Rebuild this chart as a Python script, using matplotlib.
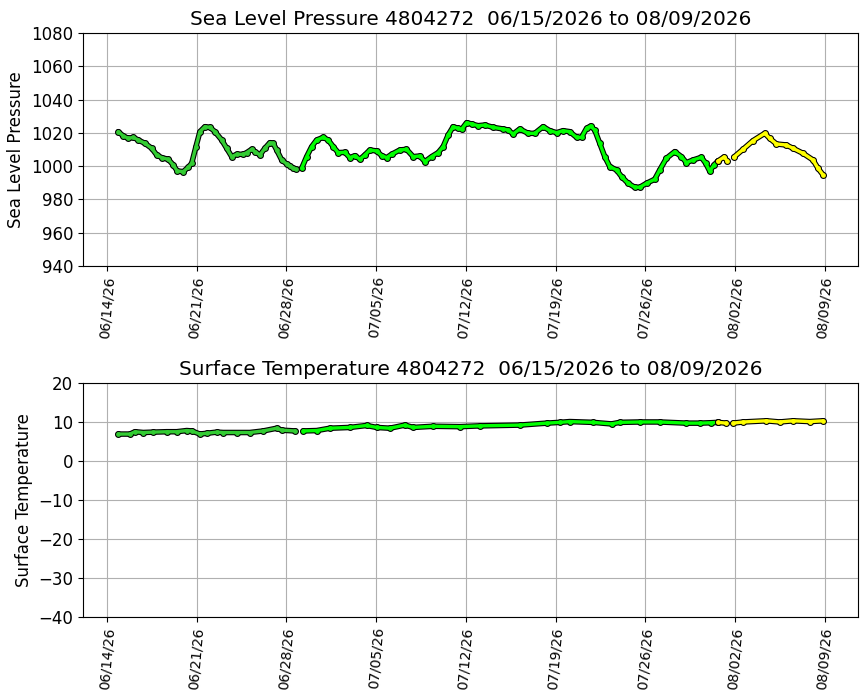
import numpy as np
import pandas as pd
import matplotlib
matplotlib.use("Agg")
import matplotlib.pyplot as plt
import matplotlib.dates as mdates

station = "4804272"
start_label = "06/15/2026"
end_label = "08/09/2026"
day0 = pd.Timestamp("2026-06-14")

# sea level pressure, days since 06/14/26
slp_days_a = [0.88, 1.27, 1.66, 2.05, 2.44, 2.96, 3.49, 3.88, 4.27, 4.78, 5.17, 5.48,
              5.95, 6.34, 6.61, 6.94, 7.25, 7.64, 8.03, 8.42, 8.95, 9.34, 9.73, 10.12,
              10.63, 10.90, 11.29, 11.54, 11.93, 12.32, 12.71, 12.97, 13.24, 13.63,
              14.02, 14.27, 14.53, 14.74]
slp_vals_a = [1020.7, 1018.1, 1016.7, 1017.3, 1015.7, 1013.7, 1010.7, 1006.7, 1005.1,
              1004.1, 1000.7, 997.1, 996.7, 999.3, 1001.7, 1011.7, 1020.7, 1023.7, 1023.3,
              1020.7, 1015.7, 1010.7, 1005.7, 1007.1, 1007.1, 1008.1, 1010.1, 1008.7,
              1006.7, 1010.7, 1014.1, 1013.7, 1009.7, 1003.7, 1001.3, 1000.1, 998.7, 998.1]

slp_days_b = [15.19, 15.58, 15.97, 16.36, 16.87, 17.26, 17.65, 18.04, 18.56, 18.95,
              19.34, 19.73, 20.12, 20.51, 21.04, 21.43, 21.82, 22.21, 22.85, 23.37,
              23.89, 24.41, 24.80, 25.33, 25.84, 26.23, 26.62, 27.01, 27.40, 27.67,
              28.06, 28.45, 28.96, 29.48, 30.13, 30.91, 31.30, 31.69, 32.21, 32.86,
              33.38, 34.03, 34.55, 35.08, 35.59, 36.11, 36.64, 37.03, 37.42, 37.73,
              38.06, 38.45, 38.84, 39.23, 39.76, 40.15, 40.66, 41.18, 41.57, 42.10,
              42.74, 43.13, 43.65, 44.30, 44.82, 45.21, 45.73, 46.38, 46.72, 47.03,
              47.35, 47.66]
slp_vals_b = [998.7, 1005.7, 1011.7, 1015.7, 1017.3, 1015.7, 1011.7, 1008.1, 1008.3,
              1005.1, 1006.3, 1004.1, 1006.7, 1009.7, 1009.1, 1006.3, 1005.1, 1007.1,
              1009.7, 1010.1, 1005.7, 1006.1, 1002.7, 1005.7, 1008.1, 1011.7, 1018.7,
              1023.7, 1022.7, 1022.1, 1026.1, 1025.3, 1024.3, 1024.7, 1023.3, 1022.3,
              1021.7, 1019.3, 1022.3, 1019.7, 1019.7, 1023.7, 1021.3, 1020.1, 1021.3,
              1020.7, 1017.3, 1017.3, 1022.7, 1024.1, 1021.7, 1013.7, 1005.7, 999.7,
              997.7, 993.7, 989.7, 987.3, 987.3, 989.7, 992.1, 997.7, 1004.7, 1008.7,
              1005.7, 1002.1, 1003.7, 1005.3, 1001.7, 997.0, 1000.5, 1003.0]

slp_days_c = [47.66, 48.15, 48.38, np.nan, 48.90, 49.63, 50.41, 51.32, 51.71, 52.24,
              53.01, 53.53, 54.31, 55.09, 55.48, 55.88]
slp_vals_c = [1003.0, 1005.5, 1003.3, np.nan, 1005.3, 1010.1, 1015.3, 1019.7, 1016.7,
              1013.3, 1012.7, 1010.7, 1007.7, 1003.7, 998.7, 994.7]

# surface temperature
sst_days_a = [0.88, 1.79, 2.18, 2.83, 3.61, 4.66, 5.44, 6.22, 6.61, 7.25, 7.78, 8.56,
              9.07, 10.12, 11.15, 12.19, 13.24, 13.63, 14.66]
sst_vals_a = [6.9, 6.9, 7.5, 7.3, 7.4, 7.5, 7.5, 7.8, 7.7, 6.9, 7.1, 7.4, 7.3, 7.3,
              7.3, 7.7, 8.4, 7.9, 7.7]

sst_days_b = [15.31, 16.36, 17.39, 18.95, 20.26, 21.04, 22.07, 23.24, 23.89, 25.45,
              27.53, 29.09, 32.21, 34.30, 35.33, 36.11, 37.93, 39.37, 40.01, 41.57,
              43.13, 45.21, 46.25, 47.11, 47.66]
sst_vals_b = [7.7, 7.8, 8.4, 8.6, 9.1, 8.6, 8.4, 9.2, 8.6, 8.9, 8.8, 9.0, 9.2, 9.7,
              9.9, 10.1, 9.9, 9.5, 9.9, 10.0, 10.0, 9.7, 9.7, 9.8, 9.9]

sst_days_c = [47.66, 48.33, np.nan, 48.85, 49.63, 51.45, 52.49, 53.53, 54.84, 55.88]
sst_vals_c = [9.9, 9.7, np.nan, 9.7, 10.0, 10.3, 10.0, 10.3, 10.1, 10.3]

tick_dates = pd.date_range("2026-06-14", "2026-08-09", freq="7D")

plt.rcParams["font.size"] = 12


def to_dates(days):
    return day0 + pd.to_timedelta(np.asarray(days, dtype=float), unit="D")


def draw_track(ax, days, vals, color):
    t = to_dates(days)
    ax.plot(t, vals, color="black", lw=4.0, marker="o", ms=4.0,
            solid_capstyle="round", solid_joinstyle="round")
    ax.plot(t, vals, color=color, lw=2.4, marker="o", ms=2.4, mec=color,
            solid_capstyle="round", solid_joinstyle="round")


fig = plt.figure(figsize=(8.67, 7), dpi=100)
ax1 = fig.add_axes([0.0957, 0.62, 0.8939, 0.3329])
ax2 = fig.add_axes([0.0957, 0.1186, 0.8939, 0.3343])

draw_track(ax1, slp_days_a, slp_vals_a, "#33cc33")
draw_track(ax1, slp_days_b, slp_vals_b, "#00ff00")
draw_track(ax1, slp_days_c, slp_vals_c, "#ffff00")

draw_track(ax2, sst_days_a, sst_vals_a, "#33cc33")
draw_track(ax2, sst_days_b, sst_vals_b, "#00ff00")
draw_track(ax2, sst_days_c, sst_vals_c, "#ffff00")

panels = [(ax1, "Sea Level Pressure", (940, 1080), 20),
          (ax2, "Surface Temperature", (-40, 20), 10)]
for ax, name, ylim, step in panels:
    ax.set_ylim(*ylim)
    ax.set_yticks(np.arange(ylim[0], ylim[1] + 1, step))
    ax.set_ylabel(name)
    ax.set_title(f"{name} {station}  {start_label} to {end_label}", fontsize="large")
    ax.set_xlim(day0 - pd.Timedelta(hours=45), day0 + pd.Timedelta(days=58.6))
    ax.set_xticks(tick_dates)
    ax.xaxis.set_major_formatter(mdates.DateFormatter("%m/%d/%y"))
    ax.tick_params(axis="x", labelrotation=85, labelsize=10)
    ax.grid(True, color="#b0b0b0")
    ax.set_axisbelow(True)

fig.savefig("out.png", dpi=100)
